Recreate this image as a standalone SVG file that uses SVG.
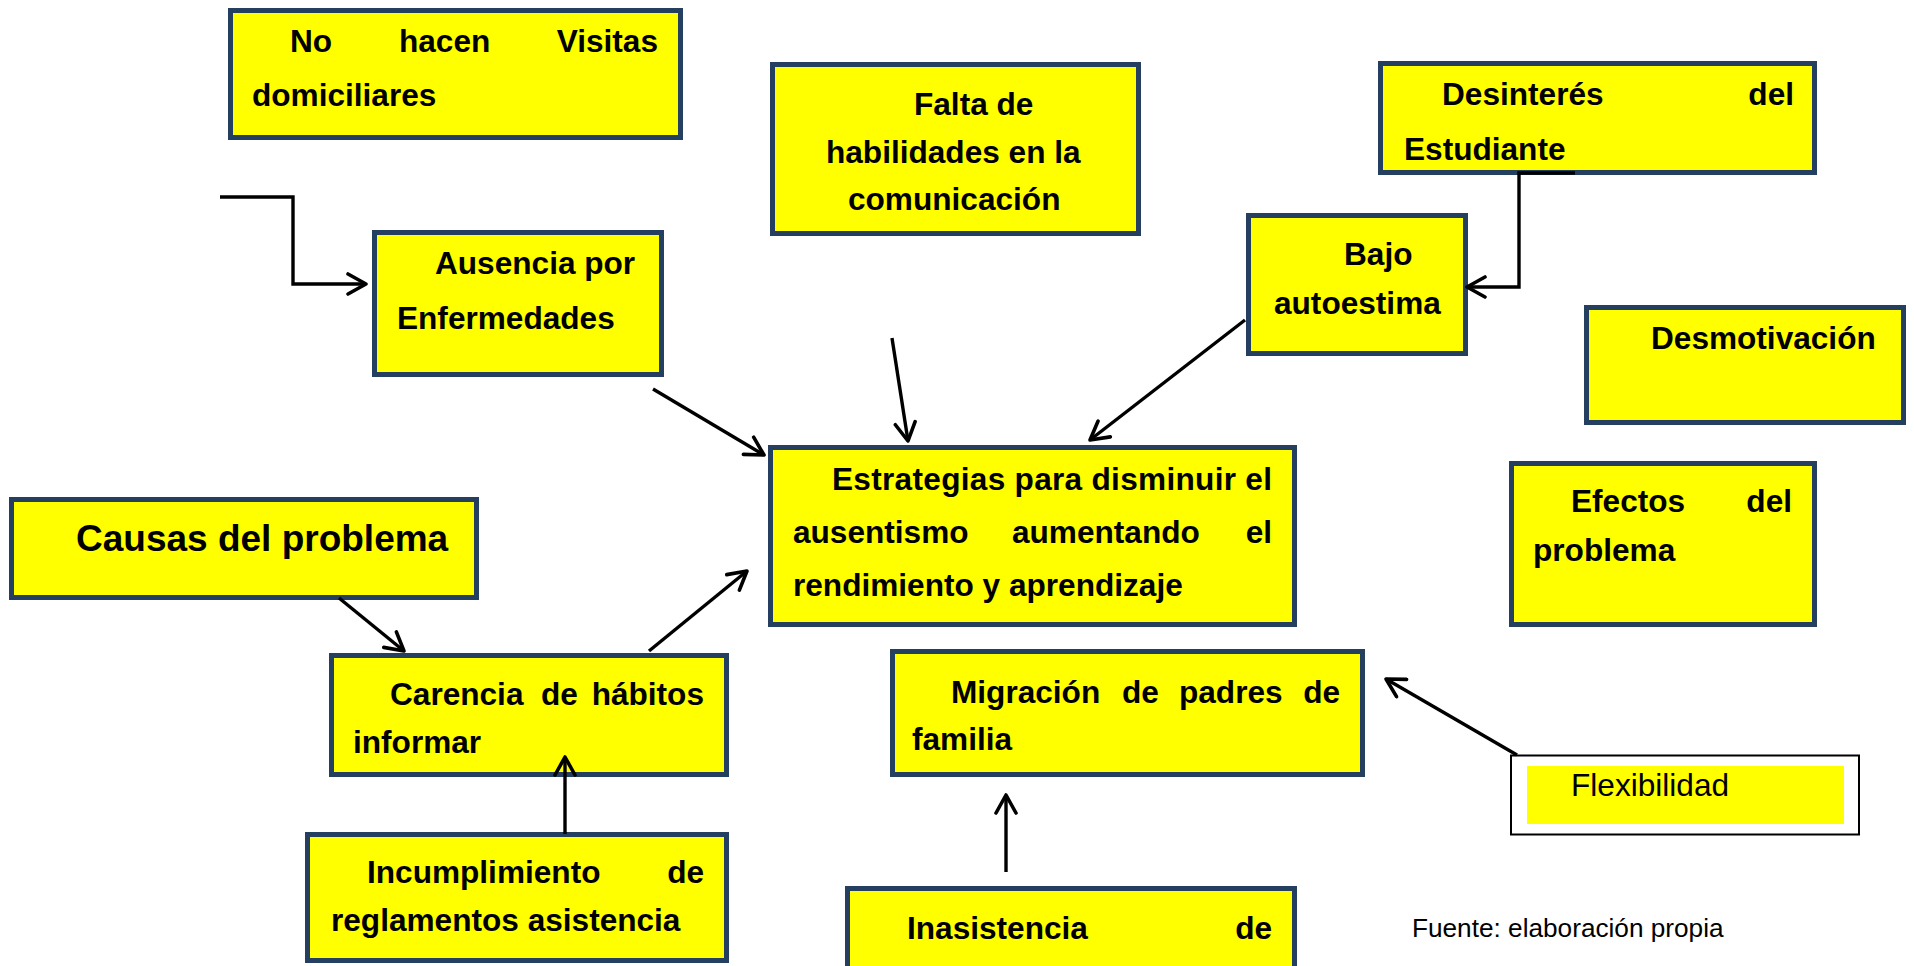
<svg xmlns="http://www.w3.org/2000/svg" width="1914" height="966" viewBox="0 0 1914 966">
<style>
.box{fill:#FFFF00;stroke:#243F60;stroke-width:5}
.t{font-family:"Liberation Sans",Arial,sans-serif;font-weight:bold;font-size:31.6px;fill:#000}
.big{font-size:37px}
.reg{font-family:"Liberation Sans",Arial,sans-serif;font-weight:normal;fill:#000}
.c{fill:none;stroke:#000;stroke-width:3.4;marker-end:url(#ah)}
</style>
<defs>
<marker id="ah" viewBox="0 0 24 24" refX="21" refY="12" markerWidth="24" markerHeight="24" markerUnits="userSpaceOnUse" orient="auto">
<path d="M3,2 L21,12 L3,22" fill="none" stroke="#000" stroke-width="3.6" stroke-linecap="round" stroke-linejoin="round"/>
</marker>
</defs>
<rect width="1914" height="966" fill="#fff"/>

<g id="n-visitas">
<rect class="box" x="230.5" y="10.5" width="450" height="127"/>
<text class="t" y="52"><tspan x="290">No</tspan><tspan x="399">hacen</tspan><tspan x="658" text-anchor="end">Visitas</tspan></text>
<text class="t" x="252" y="106">domiciliares</text>
</g>

<g id="n-ausencia">
<rect class="box" x="374.5" y="232.5" width="287" height="142"/>
<text class="t" x="435" y="274">Ausencia por</text>
<text class="t" x="397" y="329">Enfermedades</text>
</g>

<g id="n-falta">
<rect class="box" x="772.5" y="64.5" width="366" height="169"/>
<text class="t" x="914" y="115">Falta de</text>
<text class="t" x="826" y="163">habilidades en la</text>
<text class="t" x="848" y="210">comunicación</text>
</g>

<g id="n-desinteres">
<rect class="box" x="1380.5" y="63.5" width="434" height="109"/>
<text class="t" y="105"><tspan x="1442">Desinterés</tspan><tspan x="1794" text-anchor="end">del</tspan></text>
<text class="t" x="1404" y="160">Estudiante</text>
</g>

<g id="n-bajo">
<rect class="box" x="1248.5" y="215.5" width="217" height="138"/>
<text class="t" x="1344" y="265">Bajo</text>
<text class="t" x="1274" y="314">autoestima</text>
</g>

<g id="n-desmotivacion">
<rect class="box" x="1586.5" y="307.5" width="317" height="115"/>
<text class="t" x="1651" y="349">Desmotivación</text>
</g>

<g id="n-estrategias">
<rect class="box" x="770.5" y="447.5" width="524" height="177"/>
<text class="t" x="832" y="490" textLength="440" lengthAdjust="spacing">Estrategias para disminuir el</text>
<text class="t" y="543"><tspan x="793">ausentismo</tspan><tspan x="1012">aumentando</tspan><tspan x="1272" text-anchor="end">el</tspan></text>
<text class="t" x="793" y="596">rendimiento y aprendizaje</text>
</g>

<g id="n-causas">
<rect class="box" x="11.5" y="499.5" width="465" height="98"/>
<text class="t big" x="76" y="551">Causas del problema</text>
</g>

<g id="n-efectos">
<rect class="box" x="1511.5" y="463.5" width="303" height="161"/>
<text class="t" y="512"><tspan x="1571">Efectos</tspan><tspan x="1792" text-anchor="end">del</tspan></text>
<text class="t" x="1533" y="561">problema</text>
</g>

<g id="n-carencia">
<rect class="box" x="331.5" y="655.5" width="395" height="119"/>
<text class="t" y="705"><tspan x="390">Carencia</tspan><tspan x="541">de</tspan><tspan x="704" text-anchor="end">hábitos</tspan></text>
<text class="t" x="353" y="753">informar</text>
</g>

<g id="n-migracion">
<rect class="box" x="892.5" y="651.5" width="470" height="123"/>
<text class="t" y="703"><tspan x="951">Migración</tspan><tspan x="1122">de</tspan><tspan x="1179">padres</tspan><tspan x="1340" text-anchor="end">de</tspan></text>
<text class="t" x="912" y="750">familia</text>
</g>

<g id="n-incumplimiento">
<rect class="box" x="307.5" y="834.5" width="419" height="126"/>
<text class="t" y="883"><tspan x="367">Incumplimiento</tspan><tspan x="704" text-anchor="end">de</tspan></text>
<text class="t" x="331" y="931">reglamentos asistencia</text>
</g>

<g id="n-inasistencia">
<rect class="box" x="847.5" y="888.5" width="447" height="100"/>
<text class="t" y="939"><tspan x="907">Inasistencia</tspan><tspan x="1272" text-anchor="end">de</tspan></text>
</g>

<g id="n-flexibilidad">
<rect x="1511" y="755.5" width="348" height="79" fill="#fff" stroke="#000" stroke-width="2"/>
<rect x="1527" y="766" width="317" height="58" fill="#FFFF00"/>
<text class="reg" x="1571" y="796" font-size="31.6">Flexibilidad</text>
</g>

<text id="fuente" class="reg" x="1412" y="937" font-size="26.2">Fuente: elaboración propia</text>

<g id="connectors">
<path class="c" d="M220,197 H293 V284 H366"/>
<path class="c" d="M653,389 L764,455"/>
<path class="c" d="M892,338 L908,441"/>
<path class="c" d="M1245,320 L1090,440"/>
<path class="c" d="M1575,173 H1519 V287 H1467"/>
<path class="c" d="M339,598 L404,651"/>
<path class="c" d="M649,651 L747,571"/>
<path class="c" d="M565,834 L565,757"/>
<path class="c" d="M1006,872 L1006,795"/>
<path class="c" d="M1517,755 L1386,679"/>
</g>
</svg>
